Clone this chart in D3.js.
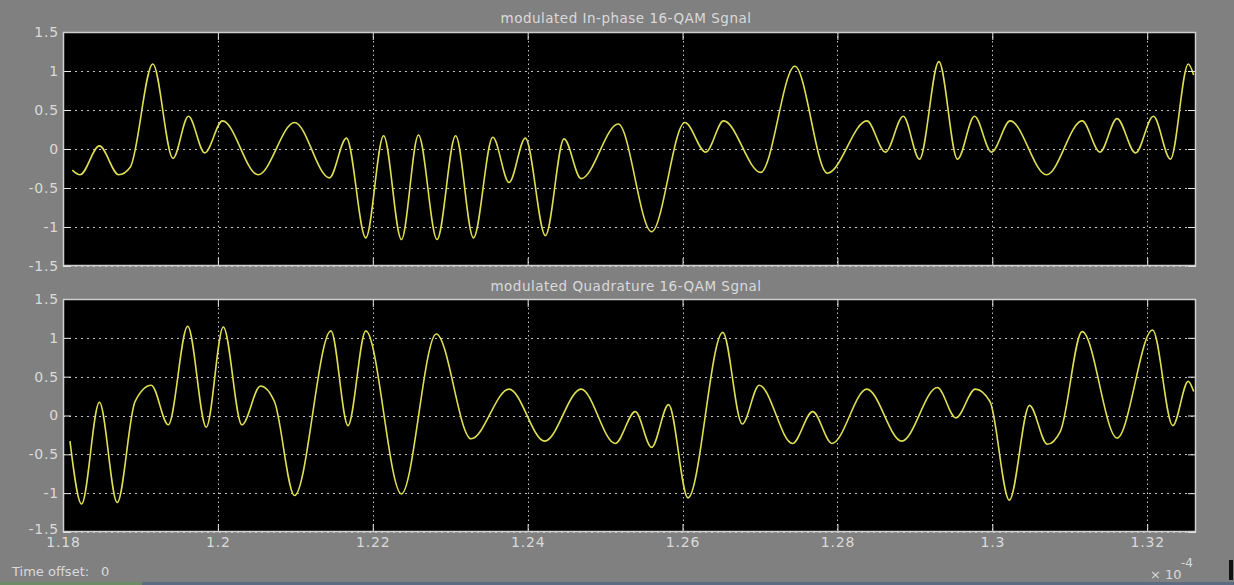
<!DOCTYPE html>
<html>
<head>
<meta charset="utf-8">
<script src="https://cdn.jsdelivr.net/npm/d3@7"></script>
<style>
  html, body { margin: 0; padding: 0; background: #808080; overflow: hidden; }
  svg { display: block; }
  text { font-family: "DejaVu Sans", "Liberation Sans", sans-serif; fill: #dadada; }
</style>
</head>
<body>
<svg id="scope" width="1234" height="585"></svg>
<script>
// Time axis (units of 1e-4 s) and amplitude axis
const timeDomain = [1.18, 1.3263];
const timeTicks = [1.18, 1.2, 1.22, 1.24, 1.26, 1.28, 1.3, 1.32];
const timeTickLabels = ["1.18", "1.2", "1.22", "1.24", "1.26", "1.28", "1.3", "1.32"];
const ampDomain = [-1.5, 1.5];
const ampTicks = [-1.5, -1, -0.5, 0, 0.5, 1, 1.5];
const ampTickLabels = ["-1.5", "-1", "-0.5", "0", "0.5", "1", "1.5"];
const panelTitles = ["modulated In-phase 16-QAM Sgnal", "modulated Quadrature 16-QAM Sgnal"];

// In-phase branch: turning points of the modulated waveform
const inPhaseTime = [
  1.1812, 1.1822, 1.1847, 1.1872, 1.1887, 1.1916, 1.1942, 1.1962, 1.1983, 1.2006,
  1.2052, 1.2099, 1.2144, 1.2166, 1.2191, 1.2214, 1.2237, 1.2259, 1.2283, 1.2307,
  1.2330, 1.2355, 1.2376, 1.2397, 1.2423, 1.2447, 1.2469, 1.2517, 1.2560, 1.2603,
  1.2630, 1.2653, 1.2701, 1.2745, 1.2787, 1.2838, 1.2862, 1.2885, 1.2906, 1.2931,
  1.2955, 1.2977, 1.2999, 1.3023, 1.3070, 1.3116, 1.3139, 1.3161, 1.3185, 1.3208,
  1.3230, 1.3253, 1.3260
];
const inPhaseAmp = [
  -0.27, -0.33, 0.04, -0.33, -0.23, 1.09, -0.12, 0.42, -0.05, 0.36,
  -0.33, 0.34, -0.37, 0.14, -1.14, 0.17, -1.16, 0.18, -1.16, 0.17,
  -1.14, 0.15, -0.43, 0.14, -1.11, 0.13, -0.38, 0.32, -1.06, 0.34,
  -0.04, 0.36, -0.30, 1.06, -0.31, 0.36, -0.04, 0.42, -0.13, 1.12,
  -0.13, 0.42, -0.04, 0.36, -0.33, 0.36, -0.04, 0.39, -0.05, 0.42,
  -0.13, 1.09, 0.95
];

// Quadrature branch: turning points of the modulated waveform
const quadTime = [
  1.1809, 1.1824, 1.1847, 1.1870, 1.1893, 1.1914, 1.1936, 1.1961, 1.1985, 1.2007,
  1.2031, 1.2055, 1.2073, 1.2099, 1.2146, 1.2168, 1.2191, 1.2237, 1.2282, 1.2327,
  1.2376, 1.2422, 1.2469, 1.2513, 1.2539, 1.2560, 1.2582, 1.2607, 1.2652, 1.2677,
  1.2699, 1.2742, 1.2768, 1.2793, 1.2838, 1.2883, 1.2929, 1.2953, 1.2978, 1.2997,
  1.3022, 1.3048, 1.3071, 1.3088, 1.3116, 1.3161, 1.3207, 1.3233, 1.3253, 1.3260
];
const quadAmp = [
  -0.33, -1.14, 0.17, -1.12, 0.18, 0.39, -0.12, 1.15, -0.15, 1.14,
  -0.12, 0.38, 0.18, -1.03, 1.09, -0.13, 1.09, -1.01, 1.05, -0.30,
  0.34, -0.33, 0.34, -0.36, 0.05, -0.41, 0.14, -1.06, 1.07, -0.11,
  0.39, -0.36, 0.05, -0.36, 0.34, -0.33, 0.36, -0.03, 0.34, 0.18,
  -1.09, 0.13, -0.37, -0.20, 1.08, -0.29, 1.10, -0.13, 0.44, 0.31
];

const svg = d3.select("#scope");
const plotLeft = 63, plotRight = 1196;
const panels = [
  { top: 32, bottom: 266, t: inPhaseTime, v: inPhaseAmp, title: panelTitles[0], titleY: 19, xLabels: false },
  { top: 299, bottom: 532, t: quadTime, v: quadAmp, title: panelTitles[1], titleY: 287, xLabels: true }
];

const x = d3.scaleLinear().domain(timeDomain).range([plotLeft, plotRight]);

panels.forEach((p, idx) => {
  const y = d3.scaleLinear().domain(ampDomain).range([p.bottom, p.top]);
  const g = svg.append("g");

  // plotting area
  g.append("rect")
    .attr("x", plotLeft).attr("y", p.top)
    .attr("width", plotRight - plotLeft).attr("height", p.bottom - p.top)
    .attr("fill", "#000");

  // dotted grid
  g.append("g").selectAll("line").data(ampTicks).join("line")
    .attr("x1", plotLeft).attr("x2", plotRight)
    .attr("y1", d => Math.round(y(d)) + 0.5).attr("y2", d => Math.round(y(d)) + 0.5)
    .attr("stroke", "#c4c4c4").attr("stroke-width", 1)
    .attr("stroke-dasharray", "2,4");
  g.append("g").selectAll("line").data(timeTicks).join("line")
    .attr("x1", d => Math.round(x(d)) + 0.5).attr("x2", d => Math.round(x(d)) + 0.5)
    .attr("y1", p.top).attr("y2", p.bottom)
    .attr("stroke", "#c4c4c4").attr("stroke-width", 1)
    .attr("stroke-dasharray", "1.5,3");

  // signal trace
  const clipId = "clip" + idx;
  svg.append("clipPath").attr("id", clipId).append("rect")
    .attr("x", plotLeft).attr("y", p.top)
    .attr("width", plotRight - plotLeft + 3).attr("height", p.bottom - p.top);
  const pts = p.t.map((t, i) => [t, p.v[i]]);
  const line = d3.line().x(d => x(d[0])).y(d => y(d[1])).curve(d3.curveMonotoneX);
  g.append("path").datum(pts)
    .attr("clip-path", `url(#${clipId})`)
    .attr("d", line)
    .attr("fill", "none")
    .attr("stroke", "#dede52")
    .attr("stroke-width", 1.6)
    .attr("stroke-linejoin", "round");

  // axes with inward ticks
  const styleAxis = sel => {
    sel.select(".domain").remove();
    sel.selectAll(".tick line").attr("stroke", "#e6e6e6");
    sel.selectAll(".tick text")
      .attr("fill", "#dadada")
      .style("font-family", '"DejaVu Sans", sans-serif')
      .style("font-size", "14px")
      .style("letter-spacing", "0.8px");
  };
  const leftAxis = g.append("g").attr("transform", `translate(${plotLeft},0)`)
    .call(d3.axisLeft(y).tickValues(ampTicks).tickFormat((d, i) => ampTickLabels[i]).tickSize(-8).tickPadding(4))
    .call(styleAxis);
  if (p.xLabels) {
    // lowest amplitude label sits just above the time labels
    leftAxis.selectAll(".tick text").filter(d => d === ampDomain[0]).attr("dy", "0.1em");
  }
  g.append("g").attr("transform", `translate(${plotRight},0)`)
    .call(d3.axisRight(y).tickValues(ampTicks).tickFormat("").tickSize(-8))
    .call(styleAxis);
  g.append("g").attr("transform", `translate(0,${p.top})`)
    .call(d3.axisTop(x).tickValues(timeTicks).tickFormat("").tickSize(-8))
    .call(styleAxis);
  g.append("g").attr("transform", `translate(0,${p.bottom})`)
    .call(d3.axisBottom(x).tickValues(timeTicks)
      .tickFormat((d, i) => p.xLabels ? timeTickLabels[i] : "")
      .tickSize(-8).tickPadding(5))
    .call(styleAxis);

  // frame
  g.append("rect")
    .attr("x", plotLeft + 0.5).attr("y", p.top + 0.5)
    .attr("width", plotRight - plotLeft - 1).attr("height", p.bottom - p.top - 1)
    .attr("fill", "none").attr("stroke", "#cfcfcf").attr("stroke-width", 1.5);

  // panel title
  svg.append("text")
    .attr("x", 626).attr("y", p.titleY)
    .attr("text-anchor", "middle").attr("dominant-baseline", "middle")
    .style("font-size", "13.5px").style("letter-spacing", "0.5px")
    .attr("fill", "#e2e2e2")
    .text(p.title);
});

// status line and exponent note
svg.append("text").attr("x", 12).attr("y", 572).attr("dominant-baseline", "middle")
  .style("font-size", "13px").attr("fill", "#e0e0e0").text("Time offset:");
svg.append("text").attr("x", 101).attr("y", 572).attr("dominant-baseline", "middle")
  .style("font-size", "13px").attr("fill", "#e0e0e0").text("0");
svg.append("text").attr("x", 1150).attr("y", 575).attr("dominant-baseline", "middle")
  .style("font-size", "13px").attr("fill", "#dadada").text("× 10");
svg.append("text").attr("x", 1181).attr("y", 563).attr("dominant-baseline", "middle")
  .style("font-size", "12px").attr("fill", "#dadada").text("-4");

// window edge strip
svg.append("rect").attr("x", 0).attr("y", 582).attr("width", 1234).attr("height", 3).attr("fill", "#5c6a82");
svg.append("rect").attr("x", 0).attr("y", 582).attr("width", 142).attr("height", 3).attr("fill", "#6f8a66");
svg.append("rect").attr("x", 1229).attr("y", 560).attr("width", 4).attr("height", 20).attr("fill", "#111");
</script>
</body>
</html>
